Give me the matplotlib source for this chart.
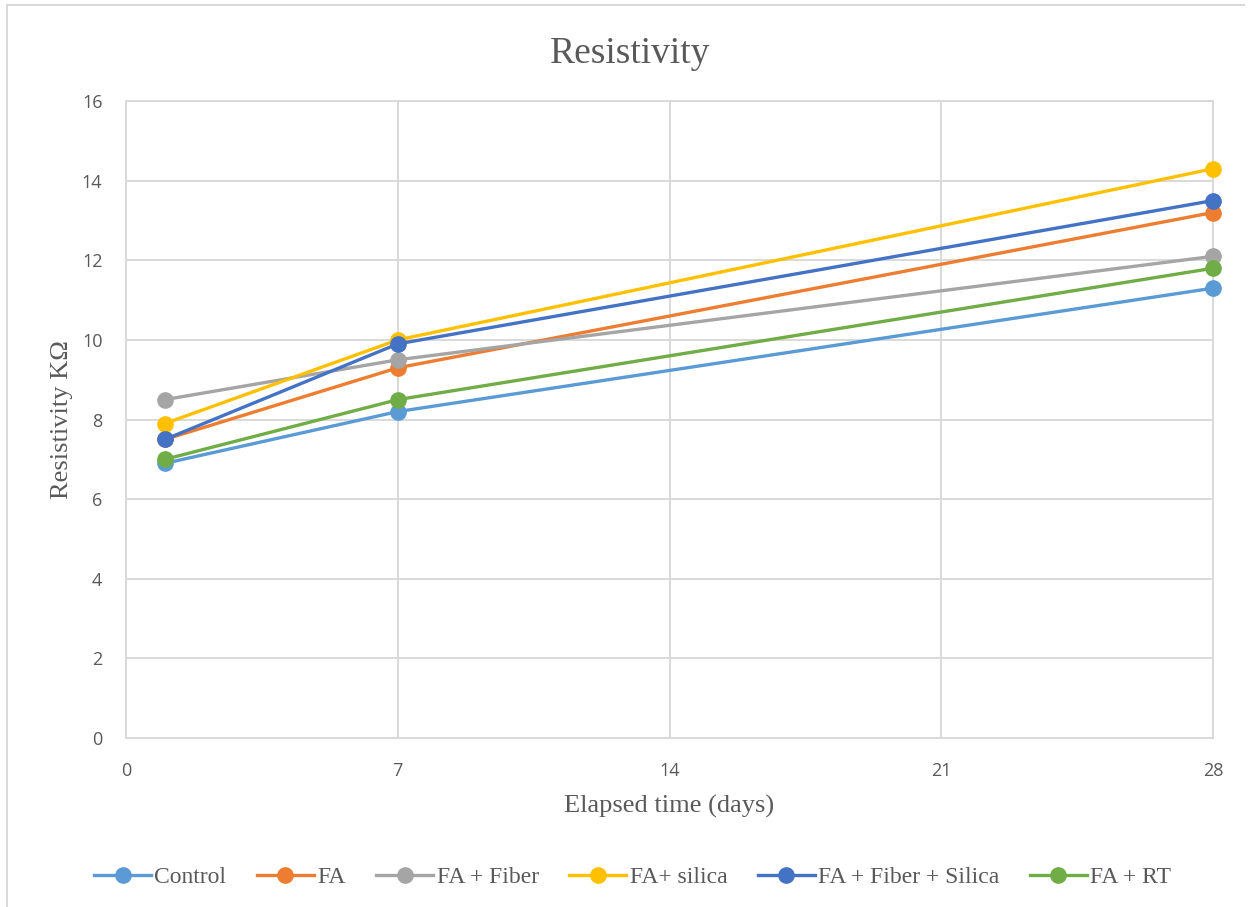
import matplotlib.pyplot as plt
from matplotlib.lines import Line2D

# elapsed days and resistivity readings for each mix
days = [1, 7, 28]
control = [6.9, 8.2, 11.3]
fa = [7.5, 9.3, 13.2]
fa_fiber = [8.5, 9.5, 12.1]
fa_silica = [7.9, 10.0, 14.3]
fa_fiber_silica = [7.5, 9.9, 13.5]
fa_rt = [7.0, 8.5, 11.8]

series_names = ["Control", "FA", "FA + Fiber", "FA+ silica",
                "FA + Fiber + Silica", "FA + RT"]
series_values = [control, fa, fa_fiber, fa_silica, fa_fiber_silica, fa_rt]
series_colors = ["#5B9BD5", "#ED7D31", "#A5A5A5", "#FFC000",
                 "#4472C4", "#70AD47"]

x_ticks = [0, 7, 14, 21, 28]
y_ticks = [0, 2, 4, 6, 8, 10, 12, 14, 16]

GRID = "#D9D9D9"
TEXT = "#595959"

fig = plt.figure(figsize=(12.53, 9.07), dpi=100)
ax = fig.add_axes([0.1006, 0.1863, 0.8675, 0.7023])

for name, vals, color in zip(series_names, series_values, series_colors):
    ax.plot(days, vals, color=color, linewidth=2.4, marker="o",
            markersize=11, label=name, solid_capstyle="round", zorder=3,
            clip_on=False)

ax.set_xlim(0, 28)
ax.set_ylim(0, 16)
ax.set_xticks(x_ticks)
ax.set_yticks(y_ticks)
ax.grid(True, color=GRID, linewidth=1.4, zorder=0)
for spine in ax.spines.values():
    spine.set_color(GRID)
    spine.set_linewidth(1.4)
ax.tick_params(length=0, labelsize=13, labelcolor=TEXT)
ax.tick_params(axis="x", pad=17)
ax.tick_params(axis="y", pad=17)
for lbl in ax.get_xticklabels() + ax.get_yticklabels():
    lbl.set_fontfamily("Open Sans")

ax.set_xlabel("Elapsed time (days)", fontsize=19, family="Liberation Serif",
              color=TEXT, labelpad=11)
ax.set_ylabel("Resistivity KΩ", fontsize=19, family="Liberation Serif",
              color=TEXT, labelpad=6)
fig.text(0.503, 0.941, "Resistivity", fontsize=27, family="Liberation Serif",
         color=TEXT, ha="center", va="center")

handles = [Line2D([], [], color=c, linewidth=2.4, marker="o", markersize=11)
           for c in series_colors]
fig.legend(handles, series_names, loc="center", bbox_to_anchor=(0.505, 0.033),
           ncol=6, frameon=False, prop={"family": "Liberation Serif", "size": 17},
           labelcolor=TEXT, handlelength=2.4, handletextpad=0.15,
           columnspacing=1.3)

# chart frame lines on the left and top
fig.add_artist(Line2D([0.0056, 0.0056], [0.0, 0.9945], color=GRID,
                      linewidth=1.4, transform=fig.transFigure))
fig.add_artist(Line2D([0.0056, 0.993], [0.9945, 0.9945], color=GRID,
                      linewidth=1.4, transform=fig.transFigure))

fig.savefig("out.png", dpi=100)
